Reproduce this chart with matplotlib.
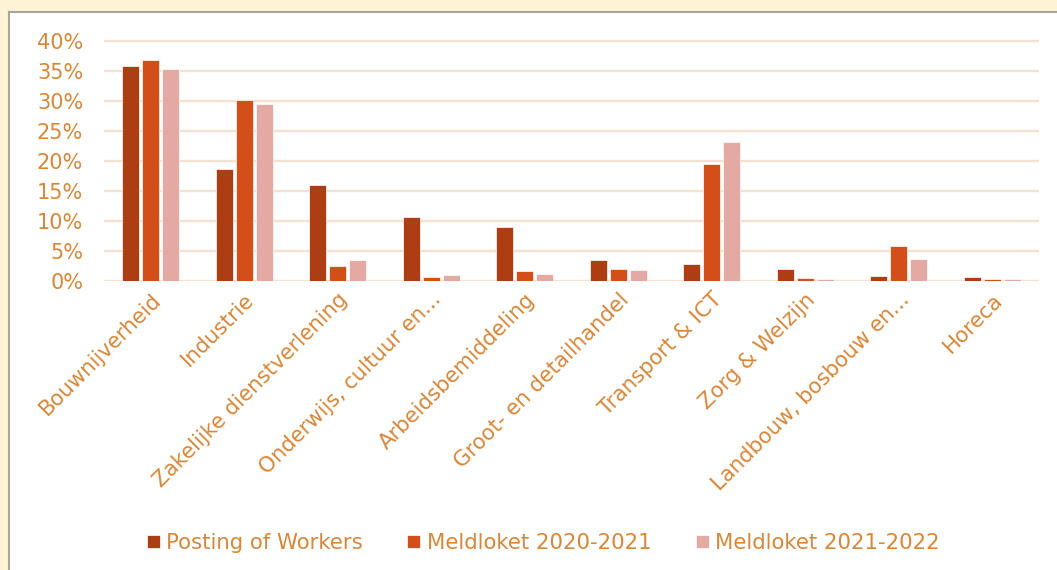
import numpy as np
import matplotlib
matplotlib.use("Agg")
import matplotlib.pyplot as plt
from matplotlib.patches import Rectangle
from matplotlib.lines import Line2D
from matplotlib.ticker import PercentFormatter

# Sector shares per data source (in %)
sectors = [
    "Bouwnijverheid", "Industrie", "Zakelijke dienstverlening",
    "Onderwijs, cultuur en...", "Arbeidsbemiddeling",
    "Groot- en detailhandel", "Transport & ICT", "Zorg & Welzijn",
    "Landbouw, bosbouw en...", "Horeca",
]
posting = [35.8, 18.6, 16.0, 10.6, 9.0, 3.45, 2.8, 2.0, 0.8, 0.7]
meld_2021 = [36.8, 30.2, 2.55, 0.7, 1.7, 1.95, 19.5, 0.45, 5.8, 0.3]
meld_2022 = [35.4, 29.5, 3.5, 0.95, 1.1, 1.8, 23.2, 0.35, 3.7, 0.4]
series_names = ["Posting of Workers", "Meldloket 2020-2021", "Meldloket 2021-2022"]

colors = ["#ad3e13", "#d44e1a", "#e4a9a3"]
text_color = "#d6873a"
grid_color = "#f3e2d1"

fig = plt.figure(figsize=(10.57, 5.70), dpi=100)
fig.patch.set_facecolor("#fff3d6")

# white panel with grey edge on left and top
x0, y1 = 9 / 1057, 1 - 12 / 570
fig.patches.append(Rectangle((x0, 0), 1 - x0, y1, transform=fig.transFigure,
                             facecolor="white", edgecolor="none", zorder=-10))
fig.lines.append(Line2D([x0, x0], [0, y1], transform=fig.transFigure,
                        color="#aaa59c", lw=1.5, zorder=-5))
fig.lines.append(Line2D([x0, 1], [y1, y1], transform=fig.transFigure,
                        color="#aaa59c", lw=1.5, zorder=-5))

ymax = 40.6
ax = fig.add_axes([104 / 1057, 1 - 281 / 570, (1039 - 104) / 1057,
                   240 * ymax / 40 / 570])
ax.set_facecolor("none")

x = np.arange(len(sectors))
w = 0.18
step = 0.215
for i, (vals, c, name) in enumerate(zip([posting, meld_2021, meld_2022], colors, series_names)):
    ax.bar(x + (i - 1) * step, vals, width=w, color=c, edgecolor="white",
           linewidth=0.5, label=name, zorder=3)

ax.set_xlim(-0.5, len(sectors) - 0.5)
ax.set_ylim(0, ymax)
ax.set_yticks(range(0, 41, 5))
ax.yaxis.set_major_formatter(PercentFormatter(decimals=0))
ax.grid(axis="y", color=grid_color, lw=1.7, zorder=0)
ax.set_axisbelow(True)
for s in ax.spines.values():
    s.set_visible(False)
ax.tick_params(axis="both", length=0, colors=text_color)
ax.tick_params(axis="y", pad=15, labelsize=15)
ax.set_xticks(x)
ax.set_xticklabels(sectors, rotation=45, ha="right", rotation_mode="anchor")
ax.tick_params(axis="x", pad=6, labelsize=15.3)

leg = fig.legend(loc="center", bbox_to_anchor=(0.514, 1 - 543 / 570), ncol=3,
                 frameon=False, fontsize=15.3, handlelength=0.6, handleheight=0.6,
                 handletextpad=0.3, columnspacing=2.1)
for t in leg.get_texts():
    t.set_color(text_color)

fig.savefig("out.png", dpi=100, facecolor=fig.get_facecolor())
